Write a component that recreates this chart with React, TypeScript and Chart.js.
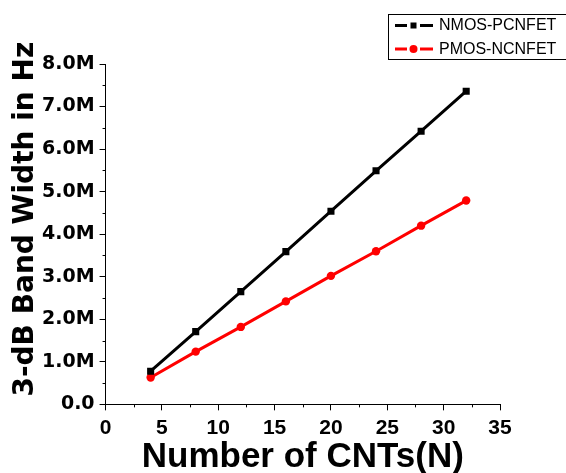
import React, { useEffect, useRef } from "react";
import { Chart, registerables } from "chart.js";

Chart.register(...registerables);

const cntCounts = [4, 8, 12, 16, 20, 24, 28, 32];
const nmosPcnfet = [0.78e6, 1.71e6, 2.65e6, 3.59e6, 4.54e6, 5.49e6, 6.42e6, 7.36e6];
const pmosNcnfet = [0.63e6, 1.24e6, 1.82e6, 2.42e6, 3.02e6, 3.6e6, 4.2e6, 4.79e6];
const seriesLabels = ["NMOS-PCNFET", "PMOS-NCNFET"];
const seriesColors = ["#000000", "#ff0000"];
const seriesMarkers = ["rect", "circle"];
const xTitle = "Number of CNTs(N)";
const yTitle = "3-dB Band Width in Hz";

const minorTicksPlugin = {
  id: "minorTicks",
  afterDraw(chart: any) {
    const ctx = chart.ctx;
    const xs = chart.scales.x;
    const ys = chart.scales.y;
    ctx.save();
    ctx.strokeStyle = "#000";
    ctx.lineWidth = 1;
    const xt = xs.ticks;
    for (let i = 0; i < xt.length - 1; i++) {
      const v = (xt[i].value + xt[i + 1].value) / 2;
      const px = Math.round(xs.getPixelForValue(v)) + 0.5;
      ctx.beginPath();
      ctx.moveTo(px, xs.top);
      ctx.lineTo(px, xs.top + 3);
      ctx.stroke();
    }
    const yt = ys.ticks;
    for (let i = 0; i < yt.length - 1; i++) {
      const v = (yt[i].value + yt[i + 1].value) / 2;
      const py = Math.round(ys.getPixelForValue(v)) + 0.5;
      ctx.beginPath();
      ctx.moveTo(ys.right, py);
      ctx.lineTo(ys.right - 3, py);
      ctx.stroke();
    }
    ctx.restore();
  },
};

const yTitlePlugin = {
  id: "yTitleText",
  afterDraw(chart: any) {
    const ctx = chart.ctx;
    const area = chart.chartArea;
    ctx.save();
    ctx.translate(25.5, (area.top + area.bottom) / 2 - 15);
    ctx.rotate(-Math.PI / 2);
    ctx.fillStyle = "#000";
    ctx.font = "bold 28px 'DejaVu Sans'";
    ctx.textAlign = "center";
    ctx.textBaseline = "middle";
    ctx.fillText(yTitle, 0, 0);
    ctx.restore();
  },
};

const boxLegendPlugin = {
  id: "boxLegend",
  afterDraw(chart: any) {
    const ctx = chart.ctx;
    ctx.save();
    ctx.strokeStyle = "#000";
    ctx.lineWidth = 1;
    ctx.strokeRect(388.5, 14.5, 200, 45);
    chart.data.datasets.forEach((ds: any, i: number) => {
      const y = 25.5 + i * 23.5;
      ctx.strokeStyle = ds.borderColor;
      ctx.fillStyle = ds.borderColor;
      ctx.lineWidth = 3;
      ctx.beginPath();
      ctx.moveTo(395, y);
      ctx.lineTo(407, y);
      ctx.moveTo(420, y);
      ctx.lineTo(433, y);
      ctx.stroke();
      if (ds.pointStyle === "rect") {
        ctx.fillRect(410.5, y - 3, 6, 6);
      } else {
        ctx.beginPath();
        ctx.arc(413.5, y, 4, 0, Math.PI * 2);
        ctx.fill();
      }
      ctx.fillStyle = "#000";
      ctx.font = "16px 'Liberation Sans', Arial, sans-serif";
      ctx.textBaseline = "middle";
      ctx.textAlign = "left";
      ctx.fillText(ds.label, 439, y + 0.5);
    });
    ctx.restore();
  },
};

export default function App() {
  const canvasRef = useRef<HTMLCanvasElement | null>(null);

  useEffect(() => {
    const canvas = canvasRef.current;
    if (!canvas) return;
    const chart = new Chart(canvas, {
      type: "line",
      data: {
        labels: cntCounts,
        datasets: [nmosPcnfet, pmosNcnfet].map((vals, i) => ({
          label: seriesLabels[i],
          data: cntCounts.map((x, j) => ({ x, y: vals[j] })),
          borderColor: seriesColors[i],
          backgroundColor: seriesColors[i],
          pointBackgroundColor: seriesColors[i],
          pointBorderColor: seriesColors[i],
          pointStyle: seriesMarkers[i],
          pointRadius: i === 0 ? 5 : 4.2,
          pointBorderWidth: 0,
          borderWidth: 3,
          tension: 0,
          fill: false,
        })),
      },
      options: {
        responsive: false,
        animation: false,
        layout: { padding: { top: 64, right: 66, left: 37, bottom: 0 } },
        plugins: { legend: { display: false }, tooltip: { enabled: false } },
        scales: {
          x: {
            type: "linear",
            min: 0,
            max: 35,
            ticks: {
              stepSize: 5,
              color: "#000",
              padding: 5,
              maxRotation: 0,
              font: { family: "'Liberation Sans', Arial", size: 21, weight: "bold" },
            },
            grid: { drawOnChartArea: false, drawTicks: true, tickLength: 6, tickColor: "#000", color: "#000" },
            border: { display: true, color: "#000", width: 1 },
            title: {
              display: true,
              text: xTitle,
              color: "#000",
              font: { family: "'Liberation Sans', Arial", size: 35, weight: "bold", lineHeight: 0.47 },
              padding: { top: 4, bottom: 7 },
            },
          },
          y: {
            type: "linear",
            min: 0,
            max: 8e6,
            ticks: {
              stepSize: 1e6,
              color: "#000",
              padding: 5,
              font: { family: "'DejaVu Sans'", size: 19, weight: "bold" },
              callback: (v: any) => (v === 0 ? "0.0" : (v / 1e6).toFixed(1) + "M"),
            },
            grid: { drawOnChartArea: false, drawTicks: true, tickLength: 6, tickColor: "#000", color: "#000" },
            border: { display: true, color: "#000", width: 1 },
            title: { display: false },
          },
        },
      },
      plugins: [minorTicksPlugin, yTitlePlugin, boxLegendPlugin],
    });
    return () => chart.destroy();
  }, []);

  return (
    <div style={{ position: "absolute", left: 0, top: 0, width: 566, height: 473 }}>
      <canvas ref={canvasRef} width={566} height={473} style={{ display: "block" }} />
    </div>
  );
}
